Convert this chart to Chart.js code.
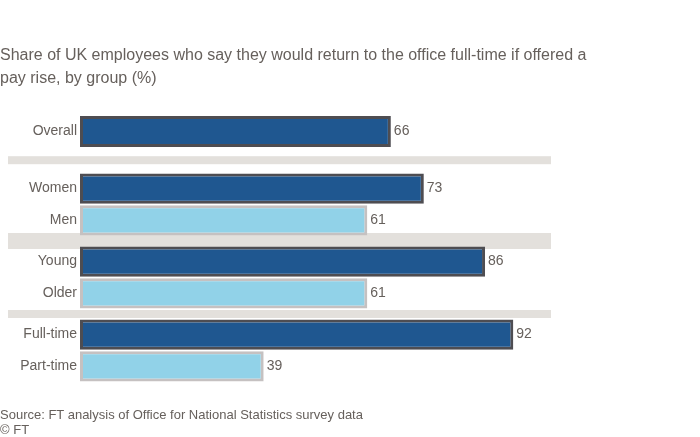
<!DOCTYPE html>
<html>
<head>
<meta charset="utf-8">
<script src="https://cdn.jsdelivr.net/npm/chart.js@4/dist/chart.umd.min.js"></script>
<style>
  html, body { margin: 0; padding: 0; background: #ffffff; }
  #wrap { position: relative; width: 700px; height: 437px; overflow: hidden; font-family: "Liberation Sans", Arial, sans-serif; }
  #title { position: absolute; left: 0; top: 43px; width: 600px; font-size: 16px; line-height: 23px; color: #66605c; }
  #footer { position: absolute; left: 0; top: 407px; width: 420px; font-size: 13px; line-height: 15px; color: #66605c; }
  canvas { position: absolute; left: 0; top: 0; }
</style>
</head>
<body>
<div id="wrap">
  <canvas id="c" width="700" height="437"></canvas>
  <div id="title">Share of UK employees who say they would return to the office full-time if offered a pay rise, by group (%)</div>
  <div id="footer">Source: FT analysis of Office for National Statistics survey data<br>© FT</div>
</div>
<script>
// ---- data ----
const categories = ['Overall', 'Gender', 'Age', 'Employment'];
const darkLabels = ['Overall', 'Women', 'Young', 'Full-time'];
const lightLabels = ['', 'Men', 'Older', 'Part-time'];
const darkValues = [66, 73, 86, 92];
const lightValues = [null, 61, 61, 39];

// ---- style ----
const DARK = '#1f5790';
const LIGHT = '#91d2e8';
const TEXT = '#66605c';
const SEP_COLOR = '#e3e0dc';
const SEP_WIDTHS = [8, 16, 8];
const LABEL_FONT = '14px "Liberation Sans", Arial, sans-serif';

const barLabelsPlugin = {
  id: 'barLabels',
  beforeDatasetsDraw(chart) {
    const ctx = chart.ctx;
    const area = chart.chartArea;
    const metas = chart.data.datasets.map((d, i) => chart.getDatasetMeta(i));
    const n = chart.data.labels.length;
    const extents = [];
    for (let g = 0; g < n; g++) {
      let top = Infinity, bottom = -Infinity;
      metas.forEach((m, di) => {
        const v = chart.data.datasets[di].data[g];
        if (v === null || v === undefined) return;
        const el = m.data[g];
        top = Math.min(top, el.y - el.height / 2);
        bottom = Math.max(bottom, el.y + el.height / 2);
      });
      extents.push({ top, bottom });
    }
    ctx.save();
    ctx.fillStyle = SEP_COLOR;
    for (let g = 1; g < n; g++) {
      const y = (extents[g - 1].bottom + extents[g].top) / 2;
      const w = SEP_WIDTHS[g - 1] || 8;
      ctx.fillRect(8, y - w / 2, area.right - 8, w);
    }
    ctx.restore();
  },
  afterDatasetsDraw(chart) {
    const ctx = chart.ctx;
    const area = chart.chartArea;
    const labelSets = [darkLabels, lightLabels];
    ctx.save();
    ctx.font = LABEL_FONT;
    ctx.fillStyle = TEXT;
    ctx.textBaseline = 'middle';
    chart.data.datasets.forEach((ds, di) => {
      const meta = chart.getDatasetMeta(di);
      ds.data.forEach((v, i) => {
        if (v === null || v === undefined) return;
        const el = meta.data[i];
        ctx.textAlign = 'right';
        ctx.fillText(labelSets[di][i], area.left - 3, el.y);
        ctx.textAlign = 'left';
        ctx.fillText(String(v), el.x + 3, el.y);
      });
    });
    ctx.restore();
  }
};

const common = {
  borderWidth: 3,
  borderSkipped: false,
  skipNull: true,
  categoryPercentage: 0.874,
  barPercentage: 0.95,
  maxBarThickness: 31
};

new Chart(document.getElementById('c'), {
  type: 'bar',
  data: {
    labels: categories,
    datasets: [
      Object.assign({ label: 'A', data: darkValues, backgroundColor: DARK, borderColor: '#4e4d52' }, common),
      Object.assign({ label: 'B', data: lightValues, backgroundColor: LIGHT, borderColor: '#c5c1c1' }, common)
    ]
  },
  options: {
    indexAxis: 'y',
    responsive: false,
    animation: false,
    layout: { padding: { top: 95, bottom: 50, left: 80, right: 149 } },
    scales: {
      x: { display: false, min: 0, max: 100 },
      y: { display: false }
    },
    plugins: {
      legend: { display: false },
      tooltip: { enabled: false },
      title: { display: false }
    }
  },
  plugins: [barLabelsPlugin]
});
</script>
</body>
</html>
